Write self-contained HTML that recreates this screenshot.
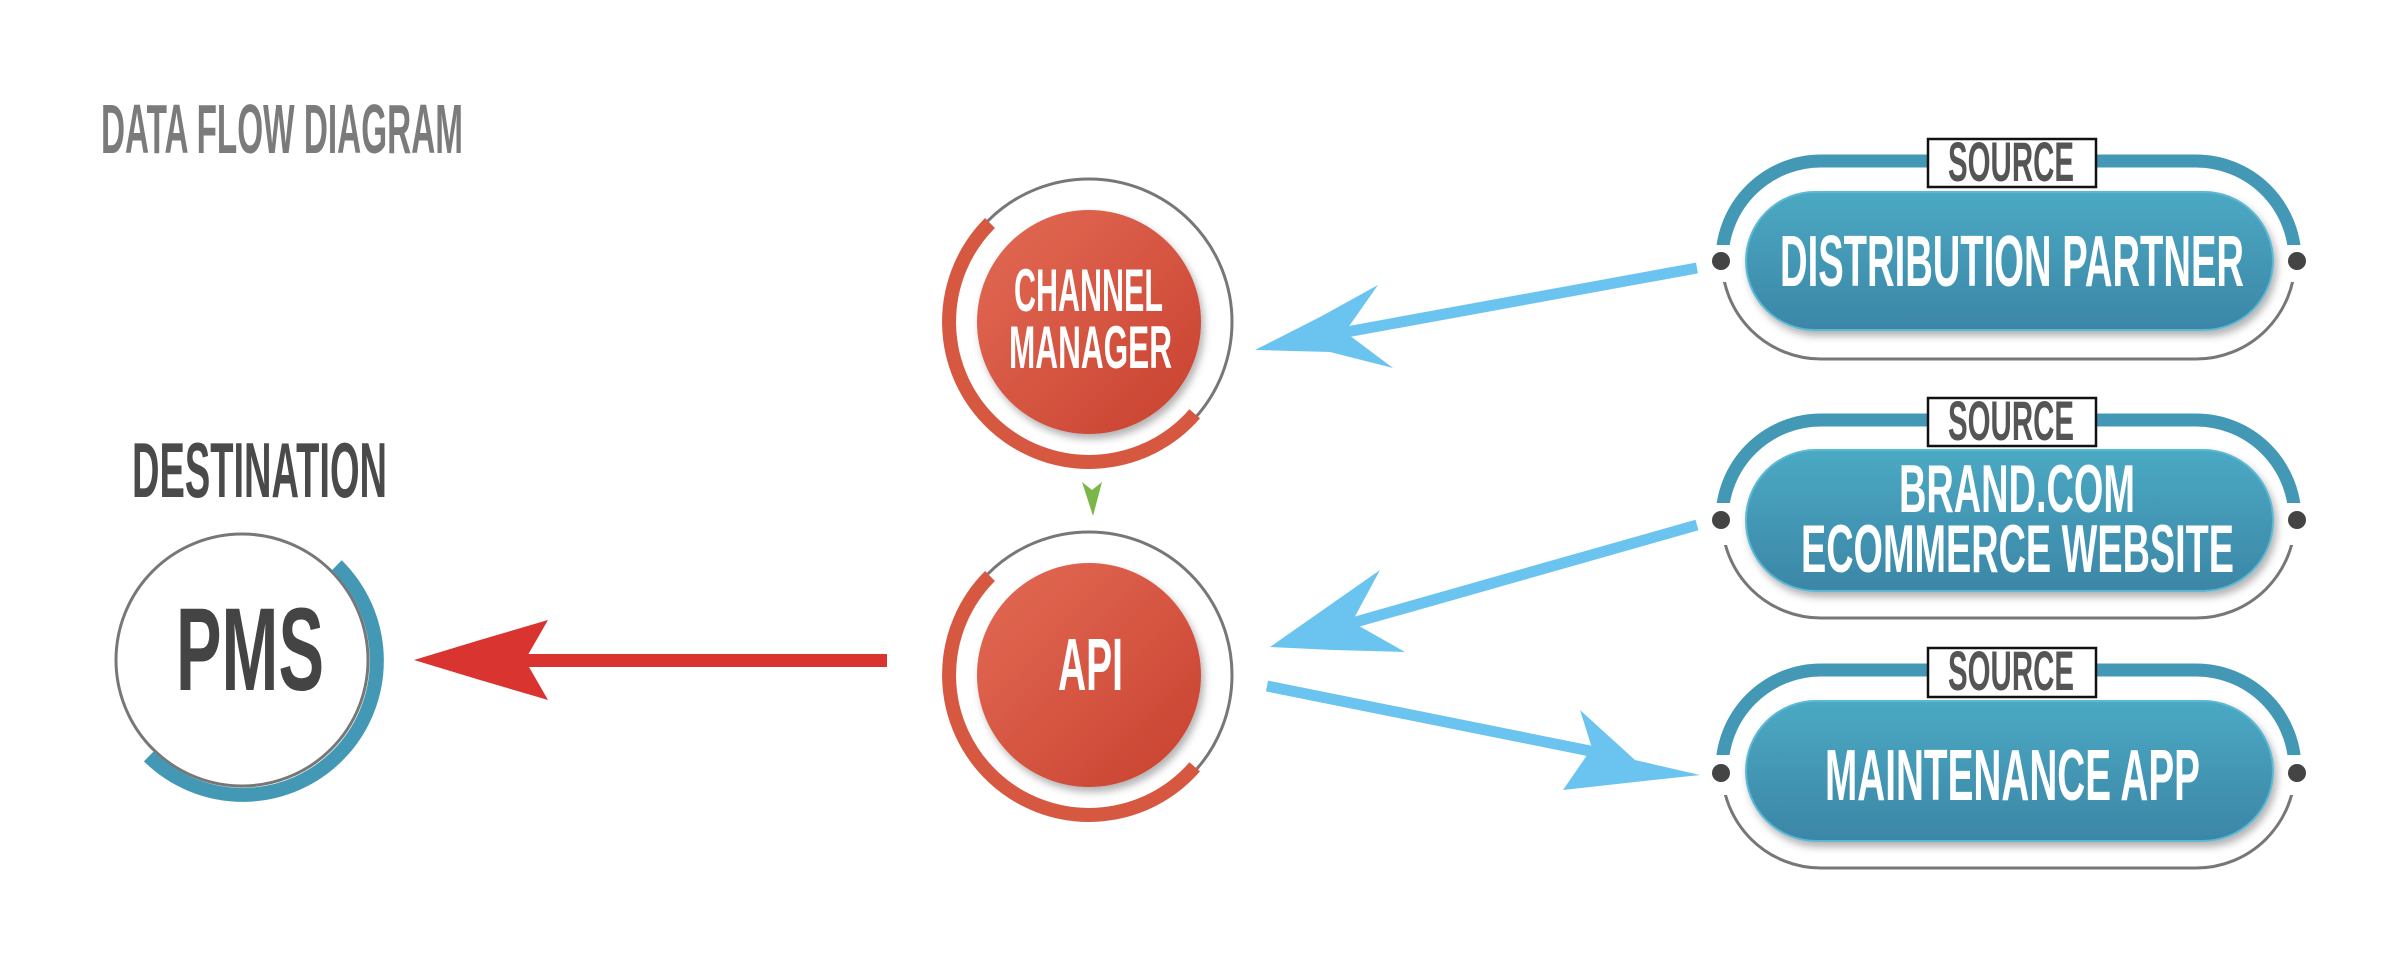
<!DOCTYPE html>
<html><head><meta charset="utf-8"><style>
html,body{margin:0;padding:0;background:#fff;}
svg{display:block;}
text{font-family:"Liberation Sans Narrow","Liberation Sans",sans-serif;font-weight:bold;}
</style></head><body>
<svg width="2406" height="964" viewBox="0 0 2406 964" xmlns="http://www.w3.org/2000/svg">
<defs>
<linearGradient id="rg" x1="0" y1="0" x2="1" y2="1">
<stop offset="0" stop-color="#e36b55"/><stop offset="1" stop-color="#c8412f"/></linearGradient>
<linearGradient id="bg" x1="0" y1="0" x2="0" y2="1">
<stop offset="0" stop-color="#4ba9c3"/><stop offset="1" stop-color="#3b86a6"/></linearGradient>
<filter id="sh" x="-20%" y="-20%" width="140%" height="150%"><feDropShadow dx="3" dy="5" stdDeviation="4" flood-color="#000" flood-opacity="0.3"/></filter>
</defs>

<text x="101" y="153" font-size="70" fill="#7b7b7b" textLength="362" lengthAdjust="spacingAndGlyphs">DATA FLOW DIAGRAM</text>
<text x="132" y="497" font-size="78" fill="#4a4a4a" textLength="255" lengthAdjust="spacingAndGlyphs">DESTINATION</text>

<!-- PMS -->
<circle cx="242" cy="660" r="126" fill="none" stroke="#777" stroke-width="3"/>
<path d="M 336.8 565.2 A 134 134 0 0 1 148.8 756.4" fill="none" stroke="#4399b5" stroke-width="14"/>
<text x="176" y="690" font-size="118" fill="#444" textLength="148" lengthAdjust="spacingAndGlyphs">PMS</text>

<!-- red arrow -->
<rect x="520" y="654" width="367" height="13" fill="#d9342f"/>
<path d="M414 660 L480 640 L548 620 L525 660 L548 700 L480 680 Z" fill="#d9342f"/>

<!-- Channel manager -->
<circle cx="1089" cy="322" r="143" fill="none" stroke="#777" stroke-width="3"/>
<path d="M 990 223 A 140 140 0 1 0 1194.7 413.8" fill="none" stroke="#d65841" stroke-width="14"/>
<circle cx="1089" cy="322" r="112" fill="url(#rg)" filter="url(#sh)"/>
<text x="1014" y="311" font-size="60" fill="#fff" textLength="149" lengthAdjust="spacingAndGlyphs">CHANNEL</text>
<text x="1009" y="368" font-size="60" fill="#fff" textLength="163" lengthAdjust="spacingAndGlyphs">MANAGER</text>

<!-- green arrow -->
<path d="M1082 482 L1092 490 L1102 482 L1093 516 Z" fill="#7ab648"/>

<!-- API -->
<circle cx="1089" cy="675" r="143" fill="none" stroke="#777" stroke-width="3"/>
<path d="M 990 576 A 140 140 0 1 0 1194.7 766.8" fill="none" stroke="#d65841" stroke-width="14"/>
<circle cx="1089" cy="675" r="112" fill="url(#rg)" filter="url(#sh)"/>
<text x="1058" y="690" font-size="74" fill="#fff" textLength="65" lengthAdjust="spacingAndGlyphs">API</text>

<!-- blue arrows -->
<g fill="#6ac4ef" stroke="none">
<line x1="1697" y1="268" x2="1330" y2="335" stroke="#6ac4ef" stroke-width="11"/>
<path d="M1255 350 L1320 317 L1378 285 L1345 332 L1393 368 L1330 352 Z"/>
<line x1="1697" y1="525" x2="1345" y2="625" stroke="#6ac4ef" stroke-width="11"/>
<path d="M1270 647 L1330 605 L1380 570 L1352 622 L1405 652 L1333 650 Z"/>
<line x1="1267" y1="686" x2="1620" y2="757" stroke="#6ac4ef" stroke-width="11"/>
<path d="M1700 775 L1635 760 L1580 710 L1592 748 L1563 790 L1635 782 Z"/>
</g>

<!-- pill 1 -->
<g>
<clipPath id="t1"><rect x="1650" y="100" width="750" height="145"/></clipPath>
<clipPath id="b1"><rect x="1650" y="282" width="750" height="120"/></clipPath>
<rect x="1722" y="161" width="573" height="198" rx="99" fill="none" stroke="#777" stroke-width="3" clip-path="url(#b1)"/>
<rect x="1722" y="161" width="573" height="198" rx="99" fill="none" stroke="#4399b5" stroke-width="13" clip-path="url(#t1)"/>
<rect x="1746" y="192" width="527" height="138" rx="69" fill="url(#bg)" stroke="#5bb8d4" stroke-width="2" filter="url(#sh)"/>
<circle cx="1721" cy="261" r="9" fill="#444"/><circle cx="2297" cy="261" r="9" fill="#444"/>
<rect x="1928" y="139" width="168" height="48" fill="#fff" stroke="#111" stroke-width="2.5"/>
<text x="1948" y="181" font-size="56" fill="#555" textLength="126" lengthAdjust="spacingAndGlyphs">SOURCE</text>
<text x="1780" y="286" font-size="72" fill="#fff" textLength="464" lengthAdjust="spacingAndGlyphs">DISTRIBUTION PARTNER</text>
</g>
<!-- pill 2 -->
<g>
<clipPath id="t2"><rect x="1650" y="380" width="750" height="123"/></clipPath>
<clipPath id="b2"><rect x="1650" y="545" width="750" height="120"/></clipPath>
<rect x="1722" y="420" width="573" height="198" rx="99" fill="none" stroke="#777" stroke-width="3" clip-path="url(#b2)"/>
<rect x="1722" y="420" width="573" height="198" rx="99" fill="none" stroke="#4399b5" stroke-width="13" clip-path="url(#t2)"/>
<rect x="1746" y="450" width="527" height="141" rx="70" fill="url(#bg)" stroke="#5bb8d4" stroke-width="2" filter="url(#sh)"/>
<circle cx="1721" cy="520" r="9" fill="#444"/><circle cx="2297" cy="520" r="9" fill="#444"/>
<rect x="1928" y="398" width="168" height="48" fill="#fff" stroke="#111" stroke-width="2.5"/>
<text x="1948" y="440" font-size="56" fill="#555" textLength="126" lengthAdjust="spacingAndGlyphs">SOURCE</text>
<text x="1899" y="512" font-size="68" fill="#fff" textLength="236" lengthAdjust="spacingAndGlyphs">BRAND.COM</text>
<text x="1801" y="572" font-size="68" fill="#fff" textLength="433" lengthAdjust="spacingAndGlyphs">ECOMMERCE WEBSITE</text>
</g>
<!-- pill 3 -->
<g>
<clipPath id="t3"><rect x="1650" y="620" width="750" height="135"/></clipPath>
<clipPath id="b3"><rect x="1650" y="795" width="750" height="120"/></clipPath>
<rect x="1722" y="670" width="573" height="198" rx="99" fill="none" stroke="#777" stroke-width="3" clip-path="url(#b3)"/>
<rect x="1722" y="670" width="573" height="198" rx="99" fill="none" stroke="#4399b5" stroke-width="13" clip-path="url(#t3)"/>
<rect x="1746" y="701" width="527" height="140" rx="70" fill="url(#bg)" stroke="#5bb8d4" stroke-width="2" filter="url(#sh)"/>
<circle cx="1721" cy="773" r="9" fill="#444"/><circle cx="2297" cy="773" r="9" fill="#444"/>
<rect x="1928" y="648" width="168" height="49" fill="#fff" stroke="#111" stroke-width="2.5"/>
<text x="1948" y="690" font-size="56" fill="#555" textLength="126" lengthAdjust="spacingAndGlyphs">SOURCE</text>
<text x="1825" y="800" font-size="72" fill="#fff" textLength="375" lengthAdjust="spacingAndGlyphs">MAINTENANCE APP</text>
</g>
</svg>
</body></html>
